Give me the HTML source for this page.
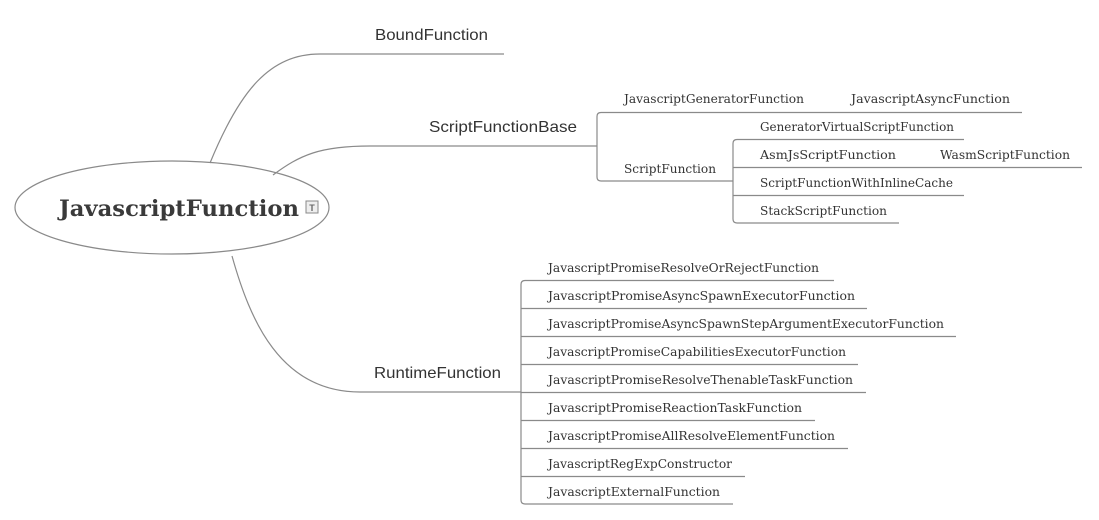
<!DOCTYPE html>
<html><head><meta charset="utf-8"><style>
html,body{margin:0;padding:0;background:#fff;}
svg{display:block;}
.s{font-family:"DejaVu Serif","Liberation Serif",serif;font-size:12px;fill:#333;}
.m{font-family:"Liberation Sans",sans-serif;font-size:16px;fill:#333;}
</style></head><body>
<svg width="1099" height="520" viewBox="0 0 1099 520" xmlns="http://www.w3.org/2000/svg">
<g fill="none" stroke="#8a8a8a" stroke-width="1.2">
<ellipse cx="172" cy="207.5" rx="157" ry="46.5"/>
<path d="M210 163 C240 90 270 54 320 54 L504 54"/>
<path d="M273 175 C300 155 320 146 370 146 L597 146"/>
<path d="M232 256 C250 320 280 392 360 392 L521 392"/>
<path d="M1022 112.5 L601 112.5 Q597 112.5 597 116.5 L597 177 Q597 181 601 181 L733 181"/>
<path d="M964 139.5 L737 139.5 Q733 139.5 733 143.5 L733 219 Q733 223 737 223 L899 223"/>
<path d="M733 167.5 L1082 167.5 M733 195.5 L964 195.5"/>
<path d="M834 280.5 L525 280.5 Q521 280.5 521 284.5 L521 500 Q521 504 525 504 L733 504"/>
<path d="M521 308.5 L867 308.5 M521 336.5 L956 336.5 M521 364.5 L858 364.5 M521 392.5 L866 392.5 M521 420.5 L815 420.5 M521 448.5 L848 448.5 M521 476.5 L745 476.5"/>
</g>
<text x="59" y="216" font-family="DejaVu Serif,Liberation Serif,serif" font-weight="bold" font-size="22" fill="#3a3a3a" textLength="240" lengthAdjust="spacingAndGlyphs">JavascriptFunction</text>
<rect x="306" y="201" width="12" height="12" fill="#eee" stroke="#888"/>
<text x="312" y="211" font-family="Liberation Sans,sans-serif" font-size="9" font-weight="bold" fill="#666" text-anchor="middle">T</text>
<text class="m" x="375" y="40" textLength="113" lengthAdjust="spacingAndGlyphs">BoundFunction</text>
<text class="m" x="429" y="132" textLength="148" lengthAdjust="spacingAndGlyphs">ScriptFunctionBase</text>
<text class="m" x="374" y="378" textLength="127" lengthAdjust="spacingAndGlyphs">RuntimeFunction</text>
<g class="s">
<text x="624" y="103" textLength="180" lengthAdjust="spacingAndGlyphs">JavascriptGeneratorFunction</text>
<text x="851" y="103" textLength="159" lengthAdjust="spacingAndGlyphs">JavascriptAsyncFunction</text>
<text x="624" y="173" textLength="92" lengthAdjust="spacingAndGlyphs">ScriptFunction</text>
<text x="760" y="131" textLength="194" lengthAdjust="spacingAndGlyphs">GeneratorVirtualScriptFunction</text>
<text x="760" y="159" textLength="136" lengthAdjust="spacingAndGlyphs">AsmJsScriptFunction</text>
<text x="940" y="159" textLength="130" lengthAdjust="spacingAndGlyphs">WasmScriptFunction</text>
<text x="760" y="187" textLength="193" lengthAdjust="spacingAndGlyphs">ScriptFunctionWithInlineCache</text>
<text x="760" y="215" textLength="127" lengthAdjust="spacingAndGlyphs">StackScriptFunction</text>
<text x="548" y="272" textLength="271" lengthAdjust="spacingAndGlyphs">JavascriptPromiseResolveOrRejectFunction</text>
<text x="548" y="300" textLength="307" lengthAdjust="spacingAndGlyphs">JavascriptPromiseAsyncSpawnExecutorFunction</text>
<text x="548" y="328" textLength="396" lengthAdjust="spacingAndGlyphs">JavascriptPromiseAsyncSpawnStepArgumentExecutorFunction</text>
<text x="548" y="356" textLength="298" lengthAdjust="spacingAndGlyphs">JavascriptPromiseCapabilitiesExecutorFunction</text>
<text x="548" y="384" textLength="305" lengthAdjust="spacingAndGlyphs">JavascriptPromiseResolveThenableTaskFunction</text>
<text x="548" y="412" textLength="254" lengthAdjust="spacingAndGlyphs">JavascriptPromiseReactionTaskFunction</text>
<text x="548" y="440" textLength="287" lengthAdjust="spacingAndGlyphs">JavascriptPromiseAllResolveElementFunction</text>
<text x="548" y="468" textLength="184" lengthAdjust="spacingAndGlyphs">JavascriptRegExpConstructor</text>
<text x="548" y="496" textLength="172" lengthAdjust="spacingAndGlyphs">JavascriptExternalFunction</text>
</g>
</svg>
</body></html>
